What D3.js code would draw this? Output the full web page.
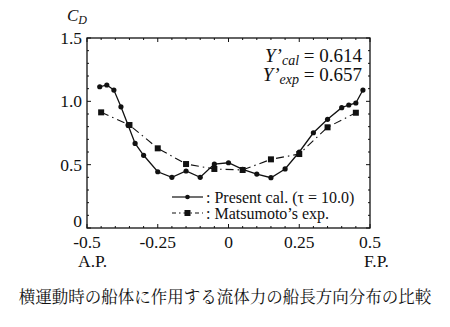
<!DOCTYPE html>
<html><head><meta charset="utf-8">
<script src="https://cdn.jsdelivr.net/npm/d3@7"></script>
<style>body{margin:0;background:#fff}svg{display:block}</style>
</head><body><svg id="c" width="450" height="327"></svg>
<script>
const calX = [-0.455,-0.43,-0.405,-0.38,-0.355,-0.33,-0.30,-0.25,-0.20,-0.15,-0.10,-0.05,0,0.05,0.10,0.15,0.20,0.25,0.30,0.35,0.40,0.425,0.45,0.475];
const calY = [1.115,1.129,1.089,0.957,0.813,0.668,0.574,0.444,0.400,0.450,0.400,0.505,0.515,0.463,0.426,0.397,0.466,0.600,0.752,0.858,0.950,0.971,0.987,1.089];
const expX = [-0.45,-0.35,-0.25,-0.15,-0.05,0.05,0.15,0.25,0.35,0.45];
const expY = [0.913,0.813,0.629,0.505,0.466,0.458,0.542,0.584,0.795,0.910];
const xTicks = [-0.5,-0.25,0,0.25,0.5];
const xTickLabels = ["-0.5","-0.25","0","0.25","0.5"];
const yTicks = [0,0.5,1.0,1.5];
const yTickLabels = ["0","0.5","1.0","1.5"];
const seriesNames = [": Present cal. (\u03c4 = 10.0)", ": Matsumoto\u2019s exp."];
const caption = "横運動時の船体に作用する流体力の船長方向分布の比較";

const svg = d3.select("#c");
const L=87,R=370,T=38,B=228;
const x = d3.scaleLinear().domain([-0.5,0.5]).range([L,R]);
const y = d3.scaleLinear().domain([0,1.5]).range([B,T]);
const serif = "'Liberation Serif','DejaVu Serif',serif";
const ink = "#111";

// frame
svg.append("rect").attr("x",L).attr("y",T).attr("width",R-L).attr("height",B-T)
  .attr("fill","none").attr("stroke",ink).attr("stroke-width",1.3);

// ticks (inward, all sides)
const minorX = d3.range(-0.5,0.5001,0.05);
const minorY = d3.range(0,1.5001,0.1);
const tk = svg.append("g").attr("stroke",ink).attr("stroke-width",1);
minorX.forEach(v=>{
  const major = Math.abs(Math.round(v/0.25)*0.25 - v) < 1e-6;
  const len = major?4:2;
  tk.append("line").attr("x1",x(v)).attr("x2",x(v)).attr("y1",B).attr("y2",B-len);
  tk.append("line").attr("x1",x(v)).attr("x2",x(v)).attr("y1",T).attr("y2",T+len);
});
minorY.forEach(v=>{
  const major = Math.abs(Math.round(v/0.5)*0.5 - v) < 1e-6;
  const len = major?4:2;
  tk.append("line").attr("y1",y(v)).attr("y2",y(v)).attr("x1",L).attr("x2",L+len);
  tk.append("line").attr("y1",y(v)).attr("y2",y(v)).attr("x1",R).attr("x2",R-len);
});

// tick labels
xTicks.forEach((v,i)=>{
  svg.append("text").attr("x",x(v)).attr("y",B+20).attr("text-anchor","middle")
    .attr("font-family",serif).attr("font-size",17.5).attr("fill",ink).text(xTickLabels[i]);
});
yTicks.forEach((v,i)=>{
  svg.append("text").attr("x",L-5).attr("y",y(v)+(i===0?-1:6)).attr("text-anchor","end")
    .attr("font-family",serif).attr("font-size",17.5).attr("fill",ink).text(yTickLabels[i]);
});
svg.append("text").attr("x",x(-0.5)-9).attr("y",B+39).attr("font-family",serif).attr("font-size",17.5).attr("fill",ink).text("A.P.");
svg.append("text").attr("x",x(0.5)-6).attr("y",B+39).attr("font-family",serif).attr("font-size",17.5).attr("fill",ink).text("F.P.");

// C_D label
const cd = svg.append("text").attr("x",67).attr("y",21).attr("font-family",serif).attr("font-style","italic").attr("font-size",17).attr("fill",ink);
cd.append("tspan").text("C");
cd.append("tspan").attr("font-size",12).attr("dy",3).text("D");

// annotations
function yLabel(yy, sub, val){
  const t = svg.append("text").attr("x",362).attr("y",yy).attr("text-anchor","end")
    .attr("font-family",serif).attr("font-size",19).attr("fill",ink);
  t.append("tspan").attr("font-style","italic").text("Y\u2019");
  t.append("tspan").attr("font-style","italic").attr("font-size",14).attr("dy",3).text(sub);
  t.append("tspan").attr("dy",-3).text(" = "+val);
}
yLabel(62,"cal","0.614");
yLabel(81,"exp","0.657");

// lines
const line = d3.line().x(d=>x(d[0])).y(d=>y(d[1]));
const calData = calX.map((v,i)=>[v,calY[i]]);
const expData = expX.map((v,i)=>[v,expY[i]]);
svg.append("path").attr("d",line(expData)).attr("fill","none").attr("stroke",ink)
  .attr("stroke-width",1.1).attr("stroke-dasharray","8,4,1.5,4");
svg.append("path").attr("d",line(calData)).attr("fill","none").attr("stroke",ink).attr("stroke-width",1.3);
svg.selectAll(".cal").data(calData).enter().append("circle")
  .attr("cx",d=>x(d[0])).attr("cy",d=>y(d[1])).attr("r",2.6).attr("fill",ink);
svg.selectAll(".exp").data(expData).enter().append("rect")
  .attr("x",d=>x(d[0])-3).attr("y",d=>y(d[1])-3).attr("width",6).attr("height",6).attr("fill",ink);

// legend
const lg = svg.append("g");
lg.append("line").attr("x1",172).attr("x2",203).attr("y1",197).attr("y2",197).attr("stroke",ink).attr("stroke-width",1.2);
lg.append("circle").attr("cx",187.5).attr("cy",197).attr("r",2.3).attr("fill",ink);
lg.append("line").attr("x1",172).attr("x2",203).attr("y1",213).attr("y2",213).attr("stroke",ink).attr("stroke-width",1.1).attr("stroke-dasharray","4,3,1.5,3");
lg.append("rect").attr("x",184.5).attr("y",210).attr("width",6).attr("height",6).attr("fill",ink);
lg.append("text").attr("x",206).attr("y",203).attr("font-family",serif).attr("font-size",16).attr("fill",ink).text(seriesNames[0]);
lg.append("text").attr("x",206).attr("y",219).attr("font-family",serif).attr("font-size",16).attr("fill",ink).text(seriesNames[1]);

// caption
svg.append("text").attr("x",225).attr("y",303).attr("text-anchor","middle")
  .attr("font-family","'Noto Serif CJK JP','Noto Sans CJK JP',sans-serif").attr("font-size",16.5).attr("fill",ink).text(caption);
</script></body></html>
